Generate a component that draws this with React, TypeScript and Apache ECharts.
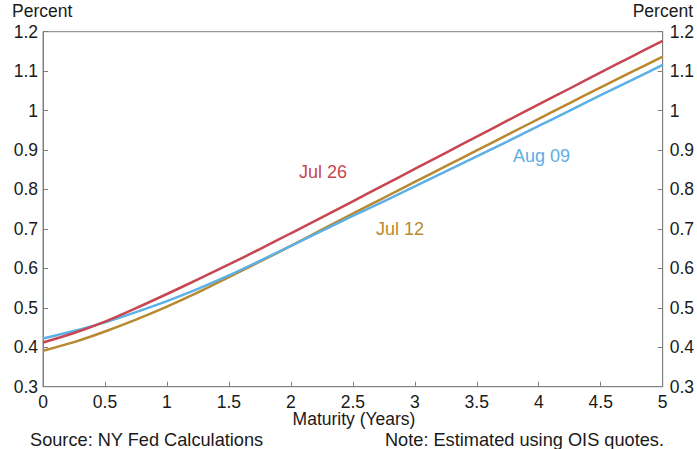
import React, { useEffect, useRef } from "react";
import * as echarts from "echarts";

const maturities = [0, 0.25, 0.5, 0.75, 1, 1.25, 1.5, 1.75, 2, 2.25, 2.5, 2.75, 3, 3.25, 3.5, 3.75, 4, 4.25, 4.5, 4.75, 5];
const jul26 = [0.412, 0.436, 0.465, 0.499, 0.535, 0.572, 0.61, 0.649, 0.689, 0.729, 0.77, 0.811, 0.852, 0.893, 0.934, 0.975, 1.016, 1.056, 1.097, 1.137, 1.177];
const jul12 = [0.391, 0.413, 0.44, 0.47, 0.503, 0.539, 0.578, 0.617, 0.657, 0.698, 0.739, 0.779, 0.819, 0.859, 0.899, 0.939, 0.979, 1.019, 1.059, 1.098, 1.137];
const aug09 = [0.422, 0.441, 0.463, 0.489, 0.517, 0.548, 0.582, 0.619, 0.657, 0.695, 0.733, 0.77, 0.808, 0.846, 0.884, 0.922, 0.961, 1.0, 1.039, 1.077, 1.116];

const seriesNames = ["Jul 26", "Jul 12", "Aug 09"];
const colors = ["#C8464F", "#B8892E", "#5CB0E5"];
const yMin = 0.3;
const yMax = 1.2;
const yStep = 0.1;
const xMin = 0;
const xMax = 5;
const xStep = 0.5;

const FONT = "'Liberation Sans', Arial, sans-serif";
const TXT = "#1a1a1a";
const AXIS = "#7f7f7f";

export default function App() {
  const ref = useRef<HTMLDivElement>(null);
  useEffect(() => {
    if (!ref.current) return;
    const chart = echarts.init(ref.current, undefined, { renderer: "svg" });
    const mk = (vals: number[]) => maturities.map((m, i) => [m, vals[i]]);
    const yAxisCommon = (pos: "left" | "right") => ({
      type: "value" as const,
      position: pos,
      min: yMin,
      max: yMax,
      interval: yStep,
      axisLine: { show: true, lineStyle: { color: AXIS, width: 1 } },
      axisTick: { show: true, inside: true, length: 5, lineStyle: { color: AXIS } },
      axisLabel: {
        color: TXT,
        fontSize: 17.5,
        fontFamily: FONT,
        margin: pos === "left" ? 5 : 7,
        formatter: (v: number) => String(Math.round(v * 10) / 10),
      },
      splitLine: { show: false },
    });
    chart.setOption({
      animation: false,
      backgroundColor: "#ffffff",
      grid: {
        left: 43,
        right: 32.5,
        top: 31.7,
        bottom: 62.3,
        show: true,
        borderColor: AXIS,
        borderWidth: 1,
        backgroundColor: "transparent",
      },
      xAxis: {
        type: "value",
        min: xMin,
        max: xMax,
        interval: xStep,
        axisLine: { show: true, lineStyle: { color: AXIS, width: 1 } },
        axisTick: { show: true, inside: true, length: 5, lineStyle: { color: AXIS } },
        axisLabel: {
          color: TXT,
          fontSize: 17.5,
          fontFamily: FONT,
          margin: 6,
          formatter: (v: number) => String(Math.round(v * 10) / 10),
        },
        splitLine: { show: false },
      },
      yAxis: [yAxisCommon("left"), yAxisCommon("right")],
      series: [jul26, jul12, aug09].map((vals, i) => ({
        name: seriesNames[i],
        type: "line",
        data: mk(vals),
        smooth: 0.3,
        showSymbol: false,
        lineStyle: { color: colors[i], width: 2.5 },
        z: i === 0 ? 4 : 3,
      })),
      graphic: [
        { type: "text", left: 12, top: 2, style: { text: "Percent", fontSize: 17.5, fontFamily: FONT, fill: TXT } },
        { type: "text", right: 4, top: 2, style: { text: "Percent", fontSize: 17.5, fontFamily: FONT, fill: TXT } },
        { type: "text", x: 354, y: 419, style: { text: "Maturity (Years)", fontSize: 17.5, fontFamily: FONT, fill: TXT, align: "center", verticalAlign: "middle" } },
        { type: "text", x: 30, y: 440, style: { text: "Source: NY Fed Calculations", fontSize: 18.2, fontFamily: FONT, fill: TXT, align: "left", verticalAlign: "middle" } },
        { type: "text", x: 664, y: 440, style: { text: "Note: Estimated using OIS quotes.", fontSize: 18.2, fontFamily: FONT, fill: TXT, align: "right", verticalAlign: "middle" } },
        { type: "text", x: 299, y: 172, style: { text: seriesNames[0], fontSize: 18, fontFamily: FONT, fill: colors[0], align: "left", verticalAlign: "middle" } },
        { type: "text", x: 376, y: 229, style: { text: seriesNames[1], fontSize: 18, fontFamily: FONT, fill: colors[1], align: "left", verticalAlign: "middle" } },
        { type: "text", x: 513, y: 156, style: { text: seriesNames[2], fontSize: 18, fontFamily: FONT, fill: colors[2], align: "left", verticalAlign: "middle" } },
      ],
    });
    return () => chart.dispose();
  }, []);
  return (
    <div
      ref={ref}
      style={{ position: "fixed", left: 0, top: 0, width: 697, height: 449, background: "#fff" }}
    />
  );
}
